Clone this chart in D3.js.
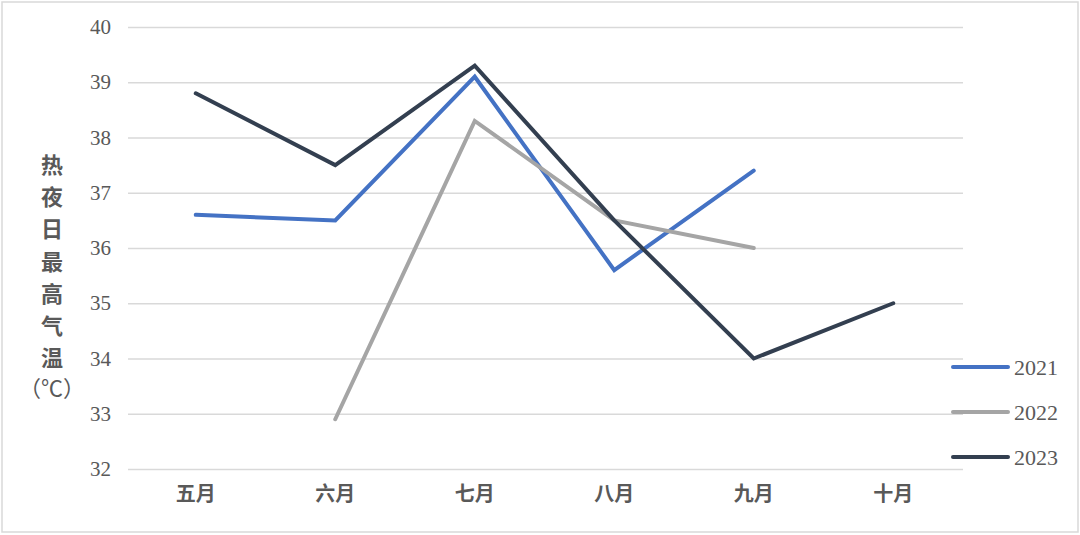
<!DOCTYPE html>
<html><head><meta charset="utf-8">
<script src="https://cdn.jsdelivr.net/npm/d3@7"></script>
<style>body{margin:0;background:#fff}svg{display:block}</style>
</head><body>
<svg id="c" width="1080" height="535"></svg>
<script>
const months = ["五月","六月","七月","八月","九月","十月"];
const yTicks = [32,33,34,35,36,37,38,39,40];
const seriesNames = ["2021","2022","2023"];
const v2021 = [36.6,36.5,39.1,35.6,37.4,null];
const v2022 = [null,32.9,38.3,36.5,36.0,null];
const v2023 = [38.8,37.5,39.3,36.5,34.0,35.0];
const colors = ["#4472C4","#A5A5A5","#333F50"];
const yTitle = ["热","夜","日","最","高","气","温","（℃）"];

const svg = d3.select("#c");
svg.append("rect").attr("x",2).attr("y",2).attr("width",1076).attr("height",530)
  .attr("fill","#fff").attr("stroke","#d9d9d9").attr("stroke-width",1.5);

const x = d3.scaleBand().domain(months).range([126,963]);
const y = d3.scaleLinear().domain([32,40]).range([469,27]);

const yAxis = svg.append("g").attr("transform","translate(128,0)")
  .call(d3.axisLeft(y).tickValues(yTicks).tickSize(-835).tickPadding(17));
yAxis.select(".domain").remove();
yAxis.selectAll("line").attr("stroke","#d9d9d9").attr("stroke-width",1.5);
yAxis.selectAll("text").attr("fill","#595959").attr("font-family","'Liberation Serif',serif").attr("font-size",21);

const xAxis = svg.append("g").attr("transform","translate(0,469)")
  .call(d3.axisBottom(x).tickSize(0).tickPadding(18));
xAxis.select(".domain").remove();
xAxis.selectAll("text").attr("fill","#595959").attr("font-family","'Noto Sans CJK SC',sans-serif")
  .attr("font-size",20).attr("font-weight","bold");

const all = [v2021,v2022,v2023];
const line = d3.line().defined(d=>d!=null)
  .x((d,i)=>x(months[i])+x.bandwidth()/2).y(d=>y(d));
all.forEach((vals,k)=>{
  svg.append("path").datum(vals).attr("d",line).attr("fill","none")
    .attr("stroke",colors[k]).attr("stroke-width",4).attr("stroke-linejoin","miter").attr("stroke-linecap","round");
});

const title = svg.append("text").attr("font-family","'Noto Sans CJK SC',sans-serif")
  .attr("font-size",22).attr("fill","#595959").attr("text-anchor","middle");
yTitle.forEach((ch,i)=>{
  title.append("tspan").attr("x",52).attr("y",i===7 ? 396 : 173+i*32.2).text(ch)
    .attr("font-weight", i===7?"normal":"bold");
});

const leg = svg.append("g");
seriesNames.forEach((n,k)=>{
  const yy = 367+k*45;
  leg.append("line").attr("x1",953).attr("x2",1008).attr("y1",yy).attr("y2",yy)
    .attr("stroke",colors[k]).attr("stroke-width",4).attr("stroke-linecap","round");
  leg.append("text").attr("x",1014).attr("y",yy+7.5).text(n).attr("fill","#595959")
    .attr("font-family","'Liberation Serif',serif").attr("font-size",22);
});
</script>
</body></html>
